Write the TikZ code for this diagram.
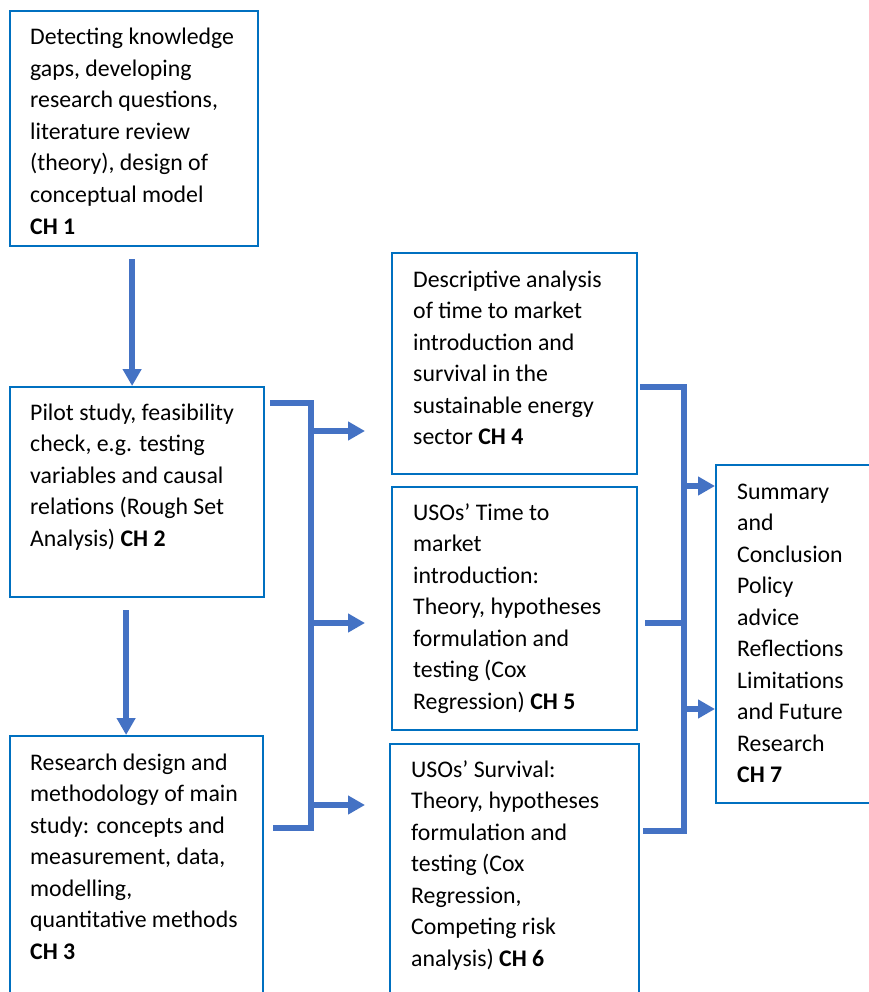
\documentclass[tikz,border=0pt]{standalone}
\usepackage{fontspec}
\setmainfont{Carlito}
\usetikzlibrary{arrows.meta}
\definecolor{boxblue}{RGB}{0,112,192}
\definecolor{flowblue}{RGB}{68,114,196}
\begin{document}
\begin{tikzpicture}[x=1pt, y=-1pt,
  chbox/.style={draw=boxblue, line width=2.2pt, inner sep=0pt, anchor=north west},
  chtext/.style={anchor=base west, inner sep=0pt, align=left,
    font=\fontsize{23.8}{31.5}\selectfont},
  flow/.style={draw=flowblue, line width=5.5pt},
  flowarrow/.style={flow, -{Triangle[length=17pt, width=18pt]}}]
  \clip (0,0) rectangle (869,992);
  \fill[white] (0,0) rectangle (869,992);

  % ---- 左列: CH 1 - CH 3 （テキストは最終行のベースラインで配置） ----
  \node[chbox, minimum width=248, minimum height=235] (ch1) at (9,10) {};
  \node[chtext] (t1) at (30,234)
    {Detecting knowledge\\ gaps, developing\\ research questions,\\ literature review\\
     (theory), design of\\ conceptual model\\ \textbf{CH 1}};
  \node[chbox, minimum width=254, minimum height=210] (ch2) at (9,386) {};
  \node[chtext] (t2) at (30,546)
    {Pilot study, feasibility\\ check, e.g. testing\\ variables and causal\\
     relations (Rough Set\\ Analysis) \textbf{CH 2}};
  \node[chbox, minimum width=253, minimum height=280] (ch3) at (9,735) {};
  \node[chtext] (t3) at (30,959)
    {Research design and\\ methodology of main\\ study: concepts and\\
     measurement, data,\\ modelling,\\ quantitative methods\\ \textbf{CH 3}};

  % ---- 中列: CH 4 - CH 6 ----
  \node[chbox, minimum width=245, minimum height=221] (ch4) at (391,252) {};
  \node[chtext] (t4) at (413,444.5)
    {Descriptive analysis\\ of time to market\\ introduction and\\ survival in the\\
     sustainable energy\\ sector \textbf{CH 4}};
  \node[chbox, minimum width=245, minimum height=243] (ch5) at (391,486) {};
  \node[chtext] (t5) at (413,709)
    {USOs’ Time to\\ market\\ introduction:\\ Theory, hypotheses\\
     formulation and\\ testing (Cox\\ Regression) \textbf{CH 5}};
  \node[chbox, minimum width=249, minimum height=270] (ch6) at (389,743) {};
  \node[chtext] (t6) at (411,966)
    {USOs’ Survival:\\ Theory, hypotheses\\ formulation and\\ testing (Cox\\
     Regression,\\ Competing risk\\ analysis) \textbf{CH 6}};

  % ---- 右列: CH 7 ----
  \node[chbox, minimum width=170, minimum height=338] (ch7) at (715,464) {};
  \node[chtext] (t7) at (737,782.5)
    {Summary\\ and\\ Conclusion\\ Policy\\ advice\\ Reflections\\ Limitations\\
     and Future\\ Research\\ \textbf{CH 7}};

  % ---- 縦の矢印 ----
  \draw[flowarrow] ([xshift=-2]ch1.south |- 0,259) -- ([xshift=-2]ch1.south |- ch2.north);
  \draw[flowarrow] ([xshift=-11]ch2.south |- 0,610) -- ([xshift=-11]ch2.south |- ch3.north);

  % ---- 左のブラケット ----
  \coordinate (lb top) at (311,403);
  \coordinate (lb bot) at (311,828);
  \draw[flow] ([shift={(5,17)}]ch2.north east) -- (lb top) -- (lb bot)
    -- ([xshift=9]ch3.east |- lb bot);
  \foreach \y in {431,623,805}
    \draw[flowarrow] (lb top |- 0,\y) -- (365,\y);

  % ---- 右のブラケット ----
  \coordinate (rb top) at (684,387);
  \coordinate (rb bot) at (684,831);
  \draw[flow] ([xshift=2]ch4.east |- rb top) -- (rb top) -- (rb bot)
    -- ([xshift=3]ch6.east |- rb bot);
  \draw[flow] ([xshift=7]ch5.east |- 0,623) -- (rb top |- 0,623);
  \foreach \y in {486,709}
    \draw[flowarrow] (rb top |- 0,\y) -- (ch7.west |- 0,\y);
\end{tikzpicture}
\end{document}
